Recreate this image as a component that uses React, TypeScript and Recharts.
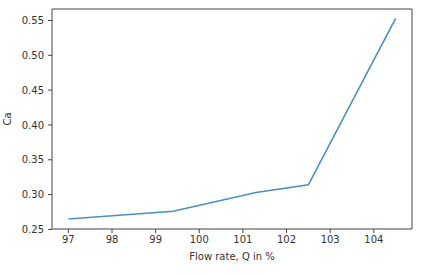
import React from 'react';
import { LineChart, Line, XAxis, YAxis, ReferenceLine } from 'recharts';

const flowRate = [97, 99.4, 101.3, 102.5, 104.5];
const caValues = [0.265, 0.276, 0.303, 0.314, 0.553];
const xTicks = [97, 98, 99, 100, 101, 102, 103, 104];
const yTicks = [0.25, 0.3, 0.35, 0.4, 0.45, 0.5, 0.55];

const X_DOMAIN: [number, number] = [96.625, 104.875];
const Y_DOMAIN: [number, number] = [0.2506, 0.5665];

const data = flowRate.map((q, i) => ({ q, ca: caValues[i] }));

const FONT = { fontSize: 10, fill: '#333', fontFamily: 'DejaVu Sans' };
const AXIS = '#444';

export default function App() {
  return (
    <div style={{ position: 'absolute', left: 0, top: 0, background: '#fff' }}>
      <LineChart width={431} height={275} data={data} margin={{ top: 9, right: 19, bottom: 0, left: 0 }}>
        <XAxis
          dataKey="q"
          type="number"
          domain={X_DOMAIN}
          ticks={xTicks}
          allowDataOverflow
          height={46}
          tick={FONT}
          tickSize={4}
          tickMargin={3}
          stroke={AXIS}
          label={{ value: 'Flow rate, Q in %', position: 'insideBottom', offset: 15, style: FONT }}
        />
        <YAxis
          type="number"
          domain={Y_DOMAIN}
          ticks={yTicks}
          allowDataOverflow
          width={52}
          tick={FONT}
          tickSize={4}
          tickMargin={4}
          tickFormatter={(v: number) => v.toFixed(2)}
          stroke={AXIS}
          label={{ value: 'Ca', angle: -90, position: 'insideLeft', offset: 7, style: { ...FONT, textAnchor: 'middle' } }}
        />
        {/* top and right spines */}
        <ReferenceLine y={Y_DOMAIN[1]} stroke={AXIS} ifOverflow="visible" />
        <ReferenceLine x={X_DOMAIN[1]} stroke={AXIS} ifOverflow="visible" />
        <Line
          dataKey="ca"
          type="linear"
          stroke="#4a8fc4"
          strokeWidth={1.6}
          dot={false}
          isAnimationActive={false}
        />
      </LineChart>
    </div>
  );
}
